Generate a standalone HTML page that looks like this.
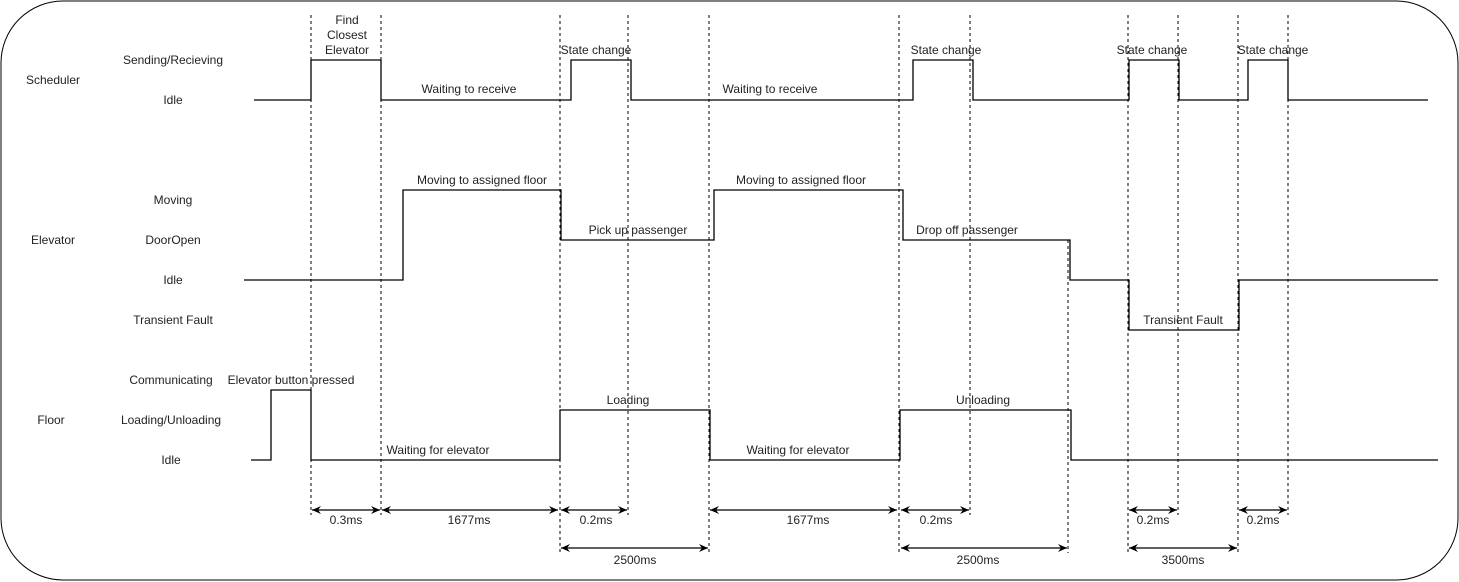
<!DOCTYPE html>
<html><head><meta charset="utf-8"><style>
html,body{margin:0;padding:0;background:#fff;}
svg{display:block;}
text{font-family:"Liberation Sans",Arial,sans-serif;font-size:12px;fill:#222;}
</style></head><body>
<svg width="1459" height="582" viewBox="0 0 1459 582" xmlns="http://www.w3.org/2000/svg">
<defs>
<marker id="a" markerWidth="10" markerHeight="10" refX="9" refY="5" orient="auto-start-reverse" markerUnits="userSpaceOnUse">
<path d="M0,1 L9,5 L0,9 L3,5 Z" fill="#000"/>
</marker>
</defs>
<rect x="1" y="1" width="1457" height="579" rx="62" ry="62" fill="#fff" stroke="#000" stroke-width="1"/>
<g text-anchor="middle">
<text x="53" y="84">Scheduler</text>
<text x="173" y="64">Sending/Recieving</text>
<text x="173" y="104">Idle</text>
<text x="53" y="244">Elevator</text>
<text x="173" y="204">Moving</text>
<text x="173" y="244">DoorOpen</text>
<text x="173" y="284">Idle</text>
<text x="173" y="324">Transient Fault</text>
<text x="51" y="424">Floor</text>
<text x="171" y="384">Communicating</text>
<text x="171" y="424">Loading/Unloading</text>
<text x="171" y="464">Idle</text>
</g>
<g stroke="#000" stroke-width="1" stroke-dasharray="3,3" fill="none">
<line x1="311" y1="15" x2="311" y2="515"/>
<line x1="381" y1="15" x2="381" y2="515"/>
<line x1="560" y1="15" x2="560" y2="553"/>
<line x1="628" y1="15" x2="628" y2="515"/>
<line x1="709" y1="15" x2="709" y2="553"/>
<line x1="899" y1="15" x2="899" y2="553"/>
<line x1="970" y1="15" x2="970" y2="515"/>
<line x1="1068" y1="240" x2="1068" y2="553"/>
<line x1="1128" y1="15" x2="1128" y2="553"/>
<line x1="1178" y1="15" x2="1178" y2="515"/>
<line x1="1238" y1="15" x2="1238" y2="553"/>
<line x1="1288" y1="15" x2="1288" y2="515"/>
</g>
<g stroke="#000" stroke-width="1.3" fill="none">
<polyline points="254,100 311,100 311,60 381,60 381,100 571,100 571,60 631,60 631,100 913,100 913,60 973,60 973,100 1129,100 1129,60 1179,60 1179,100 1248,100 1248,60 1288,60 1288,100 1428,100"/>
<polyline points="244,280 403,280 403,190 561,190 561,240 714,240 714,190 903,190 903,240 1070,240 1070,280 1129,280 1129,330 1239,330 1239,280 1438,280"/>
<polyline points="251,460 271,460 271,390 311,390 311,460 560,460 560,410 710,410 710,460 900,460 900,410 1071,410 1071,460 1438,460"/>
</g>
<g stroke="#000" stroke-width="1.3" marker-start="url(#a)" marker-end="url(#a)">
<line x1="312" y1="510" x2="380" y2="510"/>
<line x1="382" y1="510" x2="558" y2="510"/>
<line x1="561" y1="510" x2="627" y2="510"/>
<line x1="710" y1="510" x2="897" y2="510"/>
<line x1="901" y1="510" x2="969" y2="510"/>
<line x1="1129" y1="510" x2="1177" y2="510"/>
<line x1="1239" y1="510" x2="1287" y2="510"/>
<line x1="561" y1="548" x2="708" y2="548"/>
<line x1="901" y1="548" x2="1067" y2="548"/>
<line x1="1129" y1="548" x2="1237" y2="548"/>
</g>
<g text-anchor="middle">
<text x="346" y="524">0.3ms</text>
<text x="469" y="524">1677ms</text>
<text x="596" y="524">0.2ms</text>
<text x="808" y="524">1677ms</text>
<text x="936" y="524">0.2ms</text>
<text x="1153" y="524">0.2ms</text>
<text x="1263" y="524">0.2ms</text>
<text x="635" y="564">2500ms</text>
<text x="978" y="564">2500ms</text>
<text x="1183" y="564">3500ms</text>
<text x="347" y="24">Find</text>
<text x="347" y="39">Closest</text>
<text x="347" y="54">Elevator</text>
<text x="596" y="54">State change</text>
<text x="946" y="54">State change</text>
<text x="1152" y="54">State change</text>
<text x="1273" y="54">State change</text>
<text x="469" y="93">Waiting to receive</text>
<text x="770" y="93">Waiting to receive</text>
<text x="482" y="184">Moving to assigned floor</text>
<text x="801" y="184">Moving to assigned floor</text>
<text x="638" y="234">Pick up passenger</text>
<text x="967" y="234">Drop off passenger</text>
<text x="1183" y="324">Transient Fault</text>
<text x="291" y="384">Elevator button pressed</text>
<text x="628" y="404">Loading</text>
<text x="983" y="404">Unloading</text>
<text x="438" y="454">Waiting for elevator</text>
<text x="798" y="454">Waiting for elevator</text>
</g>
</svg>
</body></html>
